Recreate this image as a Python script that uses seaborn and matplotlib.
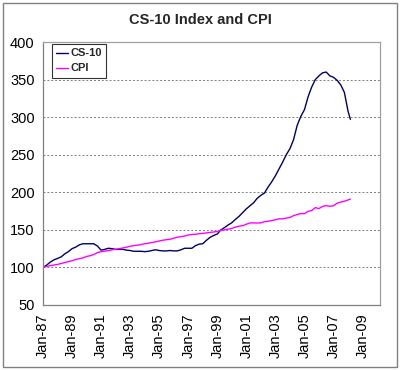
"""
CS-10 Index vs CPI (both rebased to Jan-87 = 100)
"""

import numpy as np
import pandas as pd
import matplotlib
matplotlib.use("Agg")
import matplotlib.pyplot as plt
import matplotlib.dates as mdates
import seaborn as sns

# quarterly readings, Jan-87 .. Jan-08, plus a final Mar-08 point
cs10 = [100, 103, 107, 110,
        112, 114, 118, 121,
        125, 127, 130, 131.5,
        131.5, 131.5, 131.5, 128.5,
        123, 124, 125.5, 125,
        124, 124, 124, 123,
        122.5, 121.5, 121.5, 121.5,
        121, 121.5, 122.5, 123.5,
        122.5, 122, 122, 122.5,
        122, 122, 123.5, 125.5,
        125.5, 125.5, 129, 131,
        131.5, 136, 140, 142.5,
        144.5, 150, 153, 156.5,
        159.5, 164, 168, 173,
        178, 182, 186, 192,
        196, 199, 207, 214,
        222, 231, 240, 250,
        258, 270, 289, 301,
        310, 327, 340, 350,
        355, 359, 360, 355,
        353, 349, 343, 333,
        308, 297]

cpi = [100, 101.3, 102.3, 103.2,
       104, 105.2, 106.5, 107.7,
       108.9, 110.5, 111.6, 112.7,
       114.6, 115.6, 117.2, 119.7,
       121, 121.6, 122.4, 123.4,
       124.2, 125, 125.9, 126.9,
       128.2, 129, 129.6, 130.4,
       131.5, 132.2, 133.2, 134,
       135.2, 136.2, 136.9, 137.5,
       138.8, 140.3, 140.8, 141.8,
       143.1, 143.8, 144.1, 144.9,
       145.3, 145.9, 146.6, 147.2,
       147.8, 149.4, 150, 151,
       151.8, 153.7, 154.9, 155.6,
       157.5, 159.2, 159.3, 159.1,
       159.3, 160.9, 161.4, 162.4,
       163.4, 164.7, 164.6, 165.6,
       166.5, 168.9, 170.4, 171.6,
       171.5, 174.6, 175.7, 179.6,
       178.3, 181.3, 182.2, 181.4,
       182, 185.5, 187, 188,
       189.8, 191]

dates = list(pd.date_range("1987-01-01", "2008-01-01", freq="QS")) + [pd.Timestamp("2008-03-01")]
series_names = ["CS-10", "CPI"]
colors = {"CS-10": "#000066", "CPI": "#FF00FF"}

df = pd.DataFrame({
    "date": dates * 2,
    "value": cs10 + cpi,
    "series": ["CS-10"] * len(cs10) + ["CPI"] * len(cpi),
})

sns.set_style("white")
plt.rcParams["font.family"] = ["Liberation Sans", "DejaVu Sans"]

fig = plt.figure(figsize=(4.0, 3.7), dpi=100)
ax = fig.add_axes([43 / 400, 1 - 305 / 370, (380 - 43) / 400, (305 - 42) / 370])

sns.lineplot(data=df, x="date", y="value", hue="series", hue_order=series_names,
             palette=colors, estimator=None, linewidth=1.0, ax=ax)

ax.set_ylim(50, 400)
ax.set_yticks(np.arange(50, 401, 50))
ax.set_xlim(pd.Timestamp("1987-01-01"), pd.Timestamp("2010-03-15"))
ax.set_xticks(pd.date_range("1987-01-01", "2009-01-01", freq="24MS"))
ax.xaxis.set_major_formatter(mdates.DateFormatter("%b-%y"))
ax.set_xlabel("")
ax.set_ylabel("")

for y in range(100, 400, 50):
    ax.axhline(y, color="#808080", linestyle=(0, (2, 2)), linewidth=0.7, zorder=0)

ax.tick_params(axis="both", direction="out", length=4, width=0.8, color="#808080",
               labelsize=10.5, labelcolor="black", pad=2)
ax.tick_params(axis="x", labelrotation=90)

for side in ["left", "bottom"]:
    ax.spines[side].set_color("#808080")
    ax.spines[side].set_linewidth(0.9)
for side in ["top", "right"]:
    ax.spines[side].set_color("#a0a0a0")
    ax.spines[side].set_linewidth(0.9)

handles, labels = ax.get_legend_handles_labels()
leg = ax.legend(handles, labels, loc="upper left",
                bbox_to_anchor=(52 / 400, 1 - 44 / 370), bbox_transform=fig.transFigure,
                frameon=True, fancybox=False, handlelength=1.0, handletextpad=0.25,
                borderpad=0.4, labelspacing=0.45, borderaxespad=0,
                prop={"weight": "bold", "size": 8})
leg.get_frame().set_edgecolor("black")
leg.get_frame().set_linewidth(0.8)

fig.text(0.5, 1 - 20 / 370, "CS-10 Index and CPI", ha="center", va="center",
         fontsize=10.5, fontweight="bold")

# grey frame round the whole chart
fig.patches.append(plt.Rectangle((3 / 400, 3 / 370), 394 / 400, 364 / 370,
                                 transform=fig.transFigure, fill=False,
                                 edgecolor="#808080", linewidth=1))

fig.savefig("out.png", dpi=100)
